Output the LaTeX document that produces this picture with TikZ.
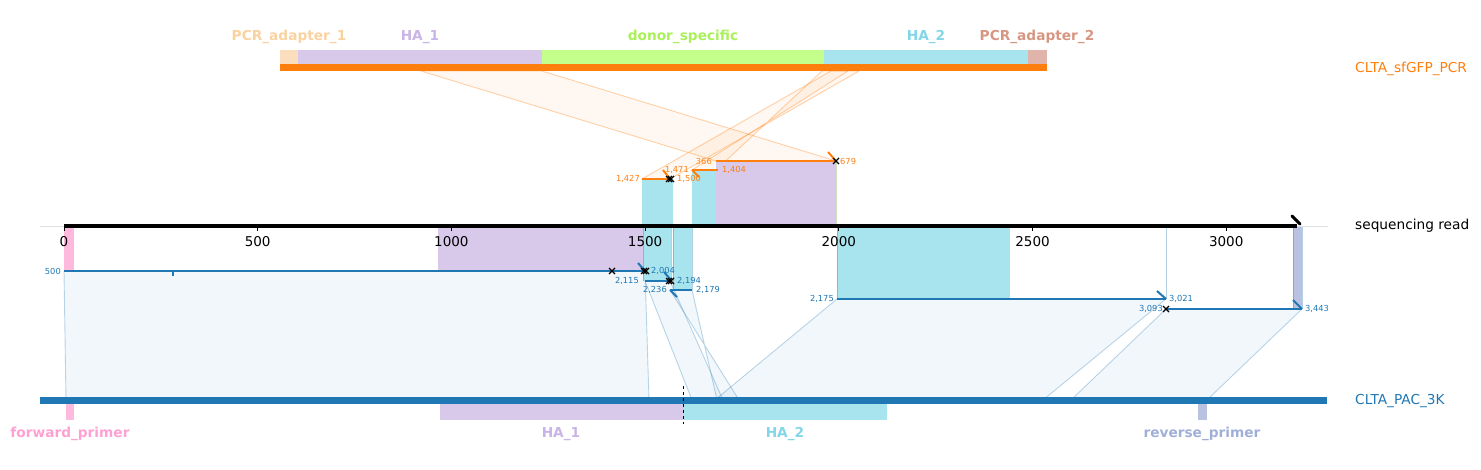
\documentclass[tikz,border=0pt]{standalone}
\usepackage{fontspec}
\setmainfont{DejaVu Sans}
\definecolor{tor}{RGB}{255,127,14}
\definecolor{tbl}{RGB}{31,119,180}
\definecolor{pa1}{RGB}{250,222,190}
\definecolor{pa1t}{RGB}{250,210,160}
\definecolor{ha1}{RGB}{216,200,234}
\definecolor{ha1t}{RGB}{200,180,230}
\definecolor{dsp}{RGB}{196,255,140}
\definecolor{dspt}{RGB}{170,240,90}
\definecolor{ha2}{RGB}{168,228,238}
\definecolor{ha2t}{RGB}{130,215,230}
\definecolor{pa2}{RGB}{224,180,170}
\definecolor{pa2t}{RGB}{215,150,130}
\definecolor{fwp}{RGB}{255,185,220}
\definecolor{fwpt}{RGB}{255,160,210}
\definecolor{rvp}{RGB}{185,195,225}
\definecolor{rvpt}{RGB}{160,175,215}
\tikzset{
  flab/.style={font=\fontsize{13.7}{15}\selectfont\bfseries, inner sep=0pt},
  tlab/.style={font=\fontsize{13.7}{15}\selectfont, inner sep=0pt, anchor=west},
  ticklab/.style={font=\fontsize{13.5}{15}\selectfont, inner sep=0pt},
  num/.style={font=\fontsize{8.3}{9}\selectfont, inner sep=0pt},
  opoly/.style={fill=tor, fill opacity=0.06, draw=tor, draw opacity=0.35, line width=0.9pt},
  bpoly/.style={fill=tbl, fill opacity=0.06, draw=tbl, draw opacity=0.3, line width=0.9pt},
  oline/.style={draw=tor, line width=2pt},
  bline/.style={draw=tbl, line width=2pt},
  xmark/.style={draw=black, line width=1.2pt},
}
\newcommand{\xm}[2]{\draw[xmark] (#1-3,#2-3) -- (#1+3,#2+3) (#1-3,#2+3) -- (#1+3,#2-3);}
\begin{document}
\begin{tikzpicture}[x=1pt,y=-1pt]
\useasboundingbox (0,0) rectangle (1481,470);

% ---------- orange (PCR) alignment polygons
\draw[opoly] (420.9,71) -- (542,71) -- (836,161) -- (716,161) -- cycle;
\draw[opoly] (822,71) -- (848,71) -- (692,170) -- (716,170) -- cycle;
\draw[opoly] (831,71) -- (859,71) -- (670,179) -- (642,179) -- cycle;

% ---------- blue (PAC) alignment polygons
\draw[bpoly] (64,271) -- (645,271) -- (649,400) -- (66,400) -- cycle;
\draw[bpoly] (645,281) -- (670,281) -- (723,400) -- (692,400) -- cycle;
\draw[bpoly] (670,290) -- (692,290) -- (717,400) -- (739,400) -- cycle;
\draw[bpoly] (837,299) -- (1166,299) -- (1043,400) -- (715,400) -- cycle;
\draw[bpoly] (1166,309) -- (1302,309) -- (1207,400) -- (1071,400) -- cycle;

% ---------- feature rectangles on the read
\fill[ha2] (642,179) rectangle (673,226);
\fill[ha2] (692,170) rectangle (718,226);
\fill[ha1] (716,161) rectangle (836,226);
\draw[dsp!70!black, opacity=0.4, line width=0.8pt] (836,161) -- (836,226);
\fill[fwp] (64,226) rectangle (74,271);
\fill[ha1] (438,226) rectangle (645,271);
\fill[ha2] (643,226) rectangle (671,281);
\fill[ha2] (673,226) rectangle (692,290);
\fill[ha2] (837,226) rectangle (1010,299);
\fill[rvp] (1293,226) rectangle (1302,309);
\draw[tbl, opacity=0.35, line width=0.8pt] (643,226) -- (643,281) (671,226) -- (671,281)
  (673,226) -- (673,290) (692,226) -- (692,290) (837,226) -- (837,299)
  (1166,226) -- (1166,299) (1302,226) -- (1302,309) (1293,226) -- (1293,309);

% ---------- read axis
\draw[black!12, line width=0.8pt] (40,226) -- (1328,226);
\coordinate (ax0) at (64,226);
\coordinate (axE) at (1297,226);
\draw[black, line width=4pt] (ax0) -- (axE);
\draw[black, line width=3pt, line cap=round] (1292,216) -- (1300,224);
\foreach \v/\xx in {0/64,500/257.7,1000/451.4,1500/645.1,2000/838.8,2500/1032.5,3000/1226.2}{
  \draw[black, line width=0.8pt] (\xx,226) -- (\xx,231);
  \node[ticklab] at (\xx,242) {\v};
}
\node[tlab] (seq) at (1355,226) {sequencing read};

% ---------- top PCR track
\fill[pa1] (279.5,50) rectangle (298,64);
\fill[ha1] (298,50) rectangle (542,64);
\fill[dsp] (542,50) rectangle (824,64);
\fill[ha2] (824,50) rectangle (1028,64);
\fill[pa2] (1028,50) rectangle (1047,64);
\fill[tor] (279.5,64) rectangle (1047,71);
\node[flab, text=pa1t] (l1) at (289,37) {PCR\_adapter\_1};
\node[flab, text=ha1t] (l2) at (420,37) {HA\_1};
\node[flab, text=dspt] (l3) at (683,37) {donor\_specific};
\node[flab, text=ha2t] (l4) at (926,37) {HA\_2};
\node[flab, text=pa2t] (l5) at (1037,37) {PCR\_adapter\_2};
\node[tlab, text=tor] (pcr) at (1355,69) {CLTA\_sfGFP\_PCR};

% ---------- bottom PAC track
\fill[tbl] (40,397) rectangle (1327,404);
\fill[fwp] (66,404) rectangle (74,420);
\fill[ha1] (440,404) rectangle (683,420);
\fill[ha2] (683,404) rectangle (887,420);
\fill[rvp] (1198,404) rectangle (1207,420);
\draw[black, dashed, line width=0.8pt] (683,386) -- (683,424);
\node[flab, text=fwpt] (b1) at (70,434) {forward\_primer};
\node[flab, text=ha1t] (b2) at (561,434) {HA\_1};
\node[flab, text=ha2t] (b3) at (785,434) {HA\_2};
\node[flab, text=rvpt] (b4) at (1202,434) {reverse\_primer};
\node[tlab, text=tbl] (pac) at (1355,401) {CLTA\_PAC\_3K};

% ---------- orange alignment lines
\draw[oline] (716,161) -- (836,161);
\draw[oline] (828,152) -- (836,161);
\xm{836}{161}
\node[num, text=tor, anchor=east] at (712,161) {366};
\node[num, text=tor, anchor=west] at (840,161) {679};
\draw[oline] (692,170) -- (718,170);
\draw[oline] (692,170) -- (699,177);
\node[num, text=tor, anchor=east] at (689,170) {1,471};
\node[num, text=tor, anchor=west] at (722,170) {1,404};
\draw[oline] (642,179) -- (670,179);
\draw[oline] (663,170) -- (670,179);
\xm{669}{179}\xm{671}{179}
\node[num, text=tor, anchor=east] at (640,179) {1,427};
\node[num, text=tor, anchor=west] at (677,179) {1,500};

% ---------- blue alignment lines
\draw[bline] (64,271) -- (645,271);
\draw[tbl, line width=2.5pt] (173,271) -- (173,276);
\draw[bline] (638,263) -- (645,271);
\xm{612}{271}\xm{644}{271}\xm{646}{271}
\node[num, text=tbl, anchor=east] at (61,271) {500};
\node[num, text=tbl, anchor=west] at (651,271) {2,004};
\draw[bline] (645,281) -- (670,281);
\draw[bline] (664,272) -- (671,280);
\xm{669}{281}\xm{671}{281}
\node[num, text=tbl, anchor=east] at (639,281) {2,115};
\node[num, text=tbl, anchor=west] at (677,281) {2,194};
\draw[bline] (670,290) -- (692,290);
\draw[bline] (670,290) -- (677,297);
\node[num, text=tbl, anchor=east] at (667,290) {2,236};
\node[num, text=tbl, anchor=west] at (696,290) {2,179};
\draw[bline] (837,299) -- (1166,299);
\draw[bline] (1157,291) -- (1166,299);
\node[num, text=tbl, anchor=east] at (834,299) {2,175};
\node[num, text=tbl, anchor=west] at (1169,299) {3,021};
\draw[bline] (1166,309) -- (1302,309);
\draw[bline] (1293,300) -- (1302,309);
\xm{1166}{309}
\node[num, text=tbl, anchor=east] at (1163,309) {3,093};
\node[num, text=tbl, anchor=west] at (1305,309) {3,443};
\end{tikzpicture}
\end{document}
